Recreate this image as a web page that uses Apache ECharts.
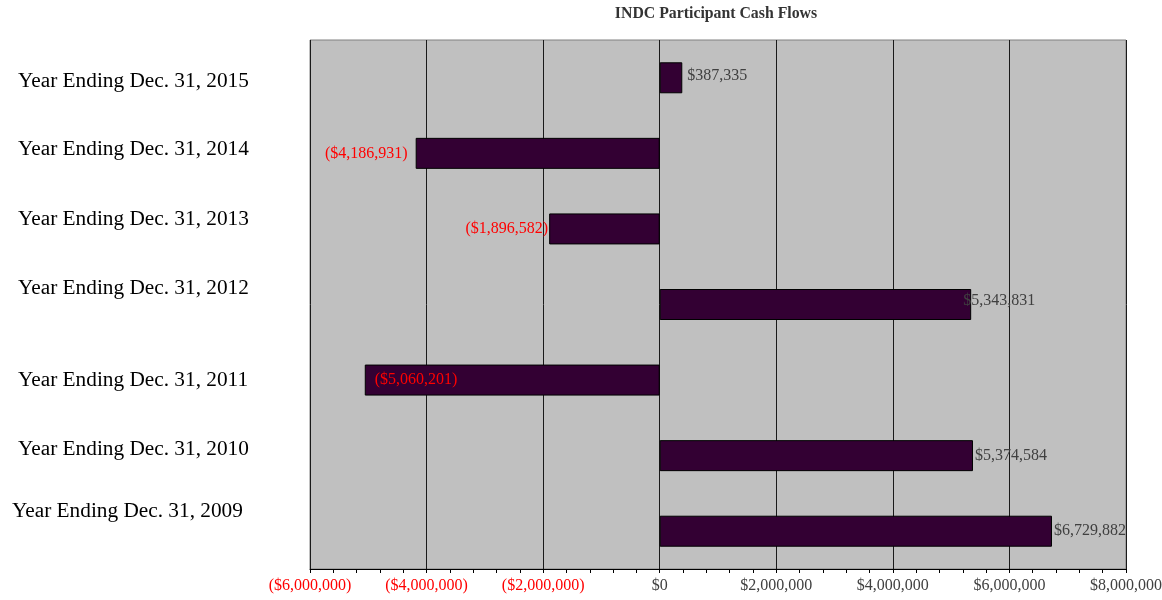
<!DOCTYPE html>
<html>
<head>
<meta charset="utf-8">
<script src="https://cdn.jsdelivr.net/npm/echarts@6/dist/echarts.min.js"></script>
<style>
html,body{margin:0;padding:0;background:#fff;}
#chart{width:1162px;height:600px;}
</style>
</head>
<body>
<div id="chart"></div>
<script>
// ---- data (bottom to top, as drawn by the category axis) ----
const categories = [
  'Year Ending Dec. 31, 2009',
  'Year Ending Dec. 31, 2010',
  'Year Ending Dec. 31, 2011',
  'Year Ending Dec. 31, 2012',
  'Year Ending Dec. 31, 2013',
  'Year Ending Dec. 31, 2014',
  'Year Ending Dec. 31, 2015'
];
const cashFlows = [6729882, 5374584, -5060201, 5343831, -1896582, -4186931, 387335];
const xMin = -6000000;
const xMax = 8000000;
const xInterval = 2000000;
const title = 'INDC Participant Cash Flows';

// ---- styling helpers (layout nudges, not data) ----
const catLabelNudge = [[0, -20], [6, -6.5], [6, 0], [6, -16.5], [6, -9.5], [6, -3.5], [6, 4]];
const valueLabelPlacement = [
  {position: 'right', distance: 2, offset: [0, 0]},
  {position: 'right', distance: 2, offset: [0, 0]},
  {position: 'insideLeft', distance: 10, offset: [0, 0]},
  {position: 'right', distance: 2, offset: [-10, -4]},
  {position: 'left', distance: 1, offset: [0, 0]},
  {position: 'left', distance: 8, offset: [0, 0]},
  {position: 'right', distance: 5, offset: [0, -2]}
];

const FONT = "'Liberation Serif', 'Times New Roman', serif";

function money(v) {
  const s = '$' + Math.abs(v).toLocaleString('en-US');
  return v < 0 ? '(' + s + ')' : s;
}

const rich = {};
catLabelNudge.forEach(([dx, dy], i) => {
  rich['c' + i] = {
    fontFamily: FONT, fontSize: 21.3, color: '#000000',
    padding: [dy > 0 ? 2 * dy : 0, 0, dy < 0 ? -2 * dy : 0, dx]
  };
});

const barData = cashFlows.map((v, i) => ({
  value: v,
  label: Object.assign({
    show: true,
    color: v < 0 ? '#ff0000' : '#404040',
    fontFamily: FONT,
    fontSize: 16,
    formatter: p => money(p.value)
  }, valueLabelPlacement[i])
}));

const chart = echarts.init(document.getElementById('chart'), null, {renderer: 'canvas'});
chart.setOption({
  animation: false,
  title: {
    text: title,
    left: 711,
    top: 1,
    textAlign: 'center',
    textStyle: {fontFamily: FONT, fontSize: 15.8, fontWeight: 'bold', color: '#333333'}
  },
  grid: {
    left: 310, right: 36, top: 40, bottom: 31,
    containLabel: false, outerBoundsMode: 'none',
    show: true, backgroundColor: '#c0c0c0', borderColor: '#808080', borderWidth: 1
  },
  xAxis: {
    type: 'value',
    min: xMin, max: xMax, interval: xInterval,
    axisLine: {show: true, onZero: false, lineStyle: {color: '#000000', width: 1}},
    axisTick: {show: true, length: 4, lineStyle: {color: '#000000'}},
    minorTick: {show: true, splitNumber: 5, length: 4, lineStyle: {color: '#000000'}},
    splitLine: {show: true, lineStyle: {color: '#1a1a1a', width: 1}},
    axisLabel: {
      margin: 9,
      fontFamily: FONT, fontSize: 16,
      formatter: v => money(v),
      color: v => (v < 0 ? '#ff0000' : '#404040')
    }
  },
  yAxis: {
    type: 'category',
    data: categories,
    axisLine: {show: false},
    axisTick: {show: false},
    splitLine: {show: false},
    axisLabel: {
      align: 'left',
      margin: 298,
      fontFamily: FONT,
      fontSize: 21.3,
      color: '#000000',
      interval: 0,
      hideOverlap: false,
      formatter: (v, i) => '{c' + i + '|' + v + '}',
      rich: rich
    }
  },
  series: [{
    type: 'bar',
    data: barData,
    barWidth: 31,
    itemStyle: {color: '#330033', borderColor: '#000000', borderWidth: 1}
  }]
});
</script>
</body>
</html>
